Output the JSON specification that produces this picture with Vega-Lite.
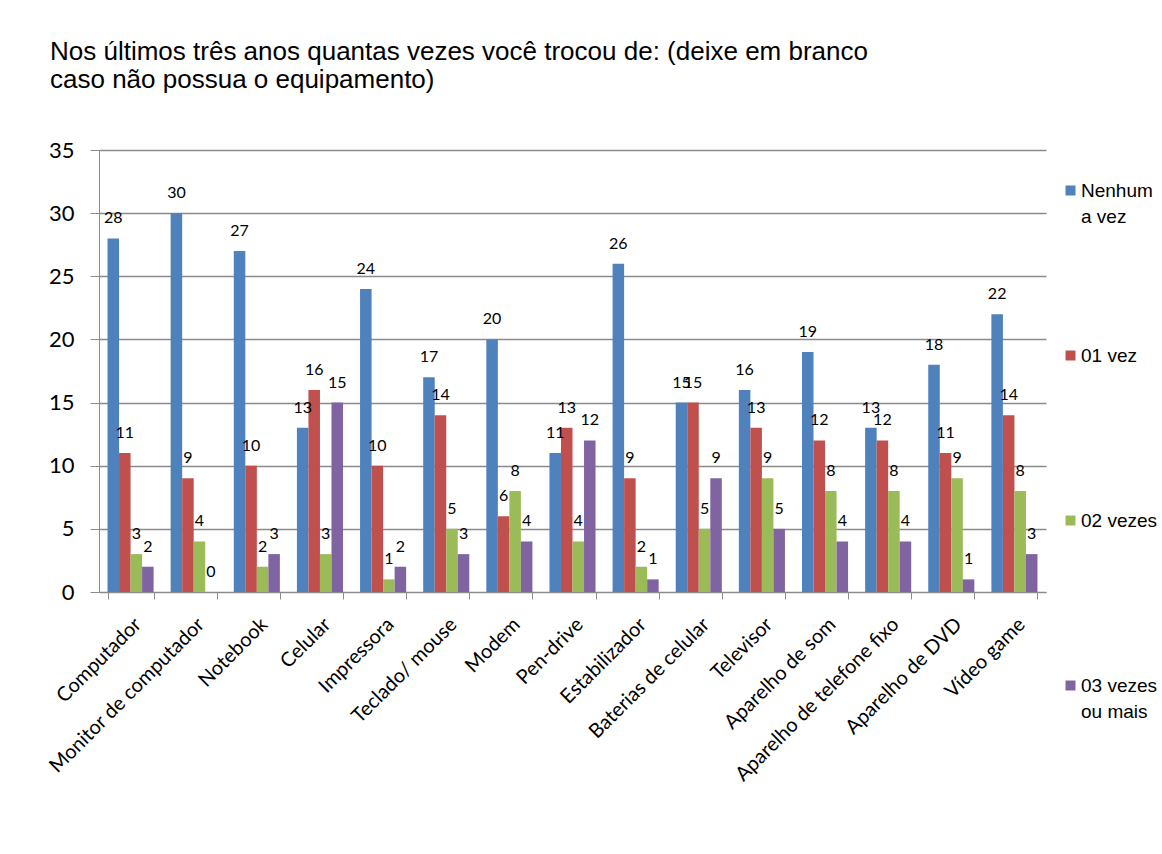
{
  "$schema": "https://vega.github.io/schema/vega-lite/v6.json",
  "autosize": "none",
  "width": 947,
  "height": 442,
  "padding": {"left": 99, "top": 150, "right": 116, "bottom": 262},
  "background": "white",
  "title": {
    "text": ["Nos últimos três anos quantas vezes você trocou de: (deixe em branco", "caso não possua o equipamento)"],
    "anchor": "start",
    "frame": "group",
    "dx": -49,
    "offset": 46,
    "font": "Liberation Sans",
    "fontSize": 26,
    "fontWeight": "normal",
    "lineHeight": 28,
    "color": "black"
  },
  "data": {
    "values": [
      {"c": "Computador", "s": "Nenhum a vez", "v": 28},
      {"c": "Computador", "s": "01 vez", "v": 11},
      {"c": "Computador", "s": "02 vezes", "v": 3},
      {"c": "Computador", "s": "03 vezes ou mais", "v": 2},
      {"c": "Monitor de computador", "s": "Nenhum a vez", "v": 30},
      {"c": "Monitor de computador", "s": "01 vez", "v": 9},
      {"c": "Monitor de computador", "s": "02 vezes", "v": 4},
      {"c": "Monitor de computador", "s": "03 vezes ou mais", "v": 0},
      {"c": "Notebook", "s": "Nenhum a vez", "v": 27},
      {"c": "Notebook", "s": "01 vez", "v": 10},
      {"c": "Notebook", "s": "02 vezes", "v": 2},
      {"c": "Notebook", "s": "03 vezes ou mais", "v": 3},
      {"c": "Celular", "s": "Nenhum a vez", "v": 13},
      {"c": "Celular", "s": "01 vez", "v": 16},
      {"c": "Celular", "s": "02 vezes", "v": 3},
      {"c": "Celular", "s": "03 vezes ou mais", "v": 15},
      {"c": "Impressora", "s": "Nenhum a vez", "v": 24},
      {"c": "Impressora", "s": "01 vez", "v": 10},
      {"c": "Impressora", "s": "02 vezes", "v": 1},
      {"c": "Impressora", "s": "03 vezes ou mais", "v": 2},
      {"c": "Teclado/ mouse", "s": "Nenhum a vez", "v": 17},
      {"c": "Teclado/ mouse", "s": "01 vez", "v": 14},
      {"c": "Teclado/ mouse", "s": "02 vezes", "v": 5},
      {"c": "Teclado/ mouse", "s": "03 vezes ou mais", "v": 3},
      {"c": "Modem", "s": "Nenhum a vez", "v": 20},
      {"c": "Modem", "s": "01 vez", "v": 6},
      {"c": "Modem", "s": "02 vezes", "v": 8},
      {"c": "Modem", "s": "03 vezes ou mais", "v": 4},
      {"c": "Pen-drive", "s": "Nenhum a vez", "v": 11},
      {"c": "Pen-drive", "s": "01 vez", "v": 13},
      {"c": "Pen-drive", "s": "02 vezes", "v": 4},
      {"c": "Pen-drive", "s": "03 vezes ou mais", "v": 12},
      {"c": "Estabilizador", "s": "Nenhum a vez", "v": 26},
      {"c": "Estabilizador", "s": "01 vez", "v": 9},
      {"c": "Estabilizador", "s": "02 vezes", "v": 2},
      {"c": "Estabilizador", "s": "03 vezes ou mais", "v": 1},
      {"c": "Baterias de celular", "s": "Nenhum a vez", "v": 15},
      {"c": "Baterias de celular", "s": "01 vez", "v": 15},
      {"c": "Baterias de celular", "s": "02 vezes", "v": 5},
      {"c": "Baterias de celular", "s": "03 vezes ou mais", "v": 9},
      {"c": "Televisor", "s": "Nenhum a vez", "v": 16},
      {"c": "Televisor", "s": "01 vez", "v": 13},
      {"c": "Televisor", "s": "02 vezes", "v": 9},
      {"c": "Televisor", "s": "03 vezes ou mais", "v": 5},
      {"c": "Aparelho de som", "s": "Nenhum a vez", "v": 19},
      {"c": "Aparelho de som", "s": "01 vez", "v": 12},
      {"c": "Aparelho de som", "s": "02 vezes", "v": 8},
      {"c": "Aparelho de som", "s": "03 vezes ou mais", "v": 4},
      {"c": "Aparelho de telefone fixo", "s": "Nenhum a vez", "v": 13},
      {"c": "Aparelho de telefone fixo", "s": "01 vez", "v": 12},
      {"c": "Aparelho de telefone fixo", "s": "02 vezes", "v": 8},
      {"c": "Aparelho de telefone fixo", "s": "03 vezes ou mais", "v": 4},
      {"c": "Aparelho de DVD", "s": "Nenhum a vez", "v": 18},
      {"c": "Aparelho de DVD", "s": "01 vez", "v": 11},
      {"c": "Aparelho de DVD", "s": "02 vezes", "v": 9},
      {"c": "Aparelho de DVD", "s": "03 vezes ou mais", "v": 1},
      {"c": "Vídeo game", "s": "Nenhum a vez", "v": 22},
      {"c": "Vídeo game", "s": "01 vez", "v": 14},
      {"c": "Vídeo game", "s": "02 vezes", "v": 8},
      {"c": "Vídeo game", "s": "03 vezes ou mais", "v": 3}
    ]
  },
  "encoding": {
    "x": {
      "field": "c",
      "type": "nominal",
      "sort": null,
      "title": null,
      "scale": {"paddingInner": 0.27, "paddingOuter": 0.135},
      "axis": {
        "labelAngle": -45,
        "labelFont": "Lato",
        "labelFontSize": 20,
        "labelColor": "black",
        "labelPadding": 15,
        "labelLimit": 400,
        "domainColor": "#8c8c8c",
        "tickColor": "#8c8c8c",
        "tickBand": "extent",
        "tickSize": 7,
        "grid": false
      }
    },
    "xOffset": {
      "field": "s",
      "type": "nominal",
      "scale": {"domain": ["Nenhum a vez", "01 vez", "02 vezes", "03 vezes ou mais"], "paddingInner": 0, "paddingOuter": 0}
    },
    "y": {
      "field": "v",
      "type": "quantitative",
      "title": null,
      "scale": {"domain": [0, 35], "nice": false},
      "axis": {
        "values": [0, 5, 10, 15, 20, 25, 30, 35],
        "labelFont": "Lato",
        "labelFontSize": 22,
        "labelColor": "black",
        "labelPadding": 16,
        "tickSize": 9,
        "tickColor": "#8c8c8c",
        "domainColor": "#8c8c8c",
        "gridColor": "#8a8a8a",
        "gridWidth": 1.3
      }
    }
  },
  "layer": [
    {
      "mark": {"type": "bar"},
      "encoding": {
        "color": {
          "field": "s",
          "type": "nominal",
          "scale": {
            "domain": ["Nenhum a vez", "01 vez", "02 vezes", "03 vezes ou mais"],
            "range": ["#4F81BD", "#C0504D", "#9BBB59", "#8064A2"]
          },
          "legend": {
            "title": null,
            "orient": "none",
            "legendX": 962,
            "legendY": 31,
            "direction": "vertical",
            "symbolType": "square",
            "symbolSize": 100,
            "symbolStrokeWidth": 0,
            "labelFont": "Liberation Sans",
            "labelFontSize": 19,
            "labelColor": "black",
            "labelOffset": 1,
            "labelBaseline": "middle",
            "rowPadding": 119,
            "padding": 0,
            "labelExpr": "datum.label == 'Nenhum a vez' ? ['Nenhum', 'a vez'] : datum.label == '03 vezes ou mais' ? ['03 vezes', 'ou mais'] : [datum.label, '']"
          }
        }
      }
    },
    {
      "mark": {"type": "text", "baseline": "middle", "dy": -20, "font": "Lato", "fontSize": 16, "color": "black"},
      "encoding": {
        "text": {"field": "v", "type": "quantitative"}
      }
    }
  ],
  "config": {
    "view": {"stroke": null},
    "style": {"guide-label": {"lineHeight": 26}}
  }
}
